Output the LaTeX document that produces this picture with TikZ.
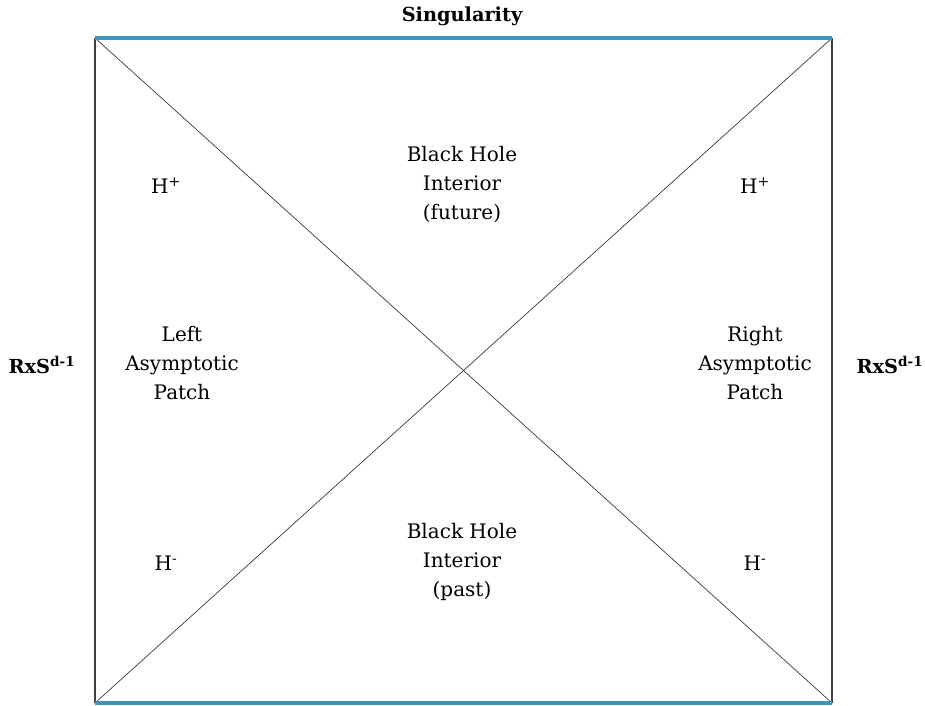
\documentclass[tikz,border=0pt]{standalone}
\usepackage{fontspec}
\setmainfont{DejaVu Serif}
\definecolor{singblue}{HTML}{3A97BA}
\begin{document}
\begin{tikzpicture}[x=0.75pt,y=-0.75pt,
  region/.style={align=center,font=\fontsize{15}{21.75}\selectfont},
  horizon/.style={font=\fontsize{15}{18}\selectfont},
  edge/.style={font=\bfseries\fontsize{14.5}{17}\selectfont}]
   %frame
   \useasboundingbox (0,0) rectangle (925,706);
   \coordinate (tl) at (95,38);
   \coordinate (tr) at (832,38);
   \coordinate (bl) at (95,703);
   \coordinate (br) at (832,703);
   %sides
   \draw[line width=1.5pt,black!75] (tl) -- (bl);
   \draw[line width=1.5pt,black!75] (tr) -- (br);
   %horizons
   \draw[line width=0.5pt,black!80] (tl) -- (br);
   \draw[line width=0.5pt,black!80] (bl) -- (tr);
   %singularities
   \draw[line width=3pt,singblue] (tl) -- (tr);
   \draw[line width=3pt,singblue] (bl) -- (br);
   %labels
   \node[edge] (sing) at (462,16) {Singularity};
   \node[edge] (bndl) at (42,365) {RxS\textsuperscript{d-1}};
   \node[edge] (bndr) at (890,365) {RxS\textsuperscript{d-1}};
   \node[region] (fut) at (462,184) {Black Hole\\Interior\\(future)};
   \node[region] (past) at (462,562) {Black Hole\\Interior\\(past)};
   \node[region] (lpatch) at (182,363) {Left\\Asymptotic\\Patch};
   \node[region] (rpatch) at (755,363) {Right\\Asymptotic\\Patch};
   \node[horizon] (hpl) at (166,186) {H\textsuperscript{+}};
   \node[horizon] (hpr) at (755,186) {H\textsuperscript{+}};
   \node[horizon] (hml) at (166,563) {H\textsuperscript{-}};
   \node[horizon] (hmr) at (755,563) {H\textsuperscript{-}};
\end{tikzpicture}
\end{document}
